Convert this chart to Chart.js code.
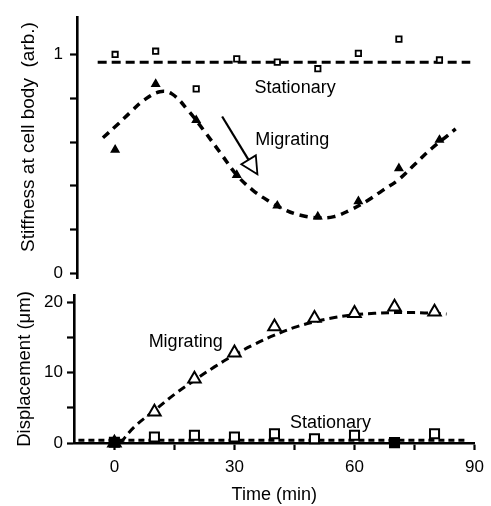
<!DOCTYPE html>
<html><head><meta charset="utf-8">
<script src="https://cdn.jsdelivr.net/npm/chart.js@4.4.1/dist/chart.umd.min.js"></script>
<style>
html,body{margin:0;padding:0;background:#fff;}
#wrap{position:relative;width:491px;height:506px;background:#fff;}
canvas{position:absolute;left:0;top:0;}
</style></head><body>
<div id="wrap"><canvas id="bot" width="491" height="506"></canvas><canvas id="top" width="491" height="506"></canvas></div>
<script>
// ---- data ----
const times = [0, 10, 20, 30, 40, 50, 60, 70, 80];
const stiffStationary = [1.0, 1.015, 0.843, 0.98, 0.965, 0.935, 1.005, 1.07, 0.975];
const stiffMigrating = [0.565, 0.865, 0.70, 0.45, 0.31, 0.26, 0.33, 0.48, 0.61];
const stiffStationaryFitX = [-4.3, 87.6];
const stiffStationaryFitY = [0.965, 0.965];
const stiffMigratingFitX = [-3, 0, 4, 7, 11, 14, 18, 22, 26, 30, 34, 38, 42, 46, 50, 54, 58, 62, 66, 70, 74, 78, 82, 84];
const stiffMigratingFitY = [0.62, 0.67, 0.74, 0.79, 0.83, 0.82, 0.745, 0.65, 0.55, 0.45, 0.38, 0.33, 0.29, 0.265, 0.255, 0.26, 0.29, 0.33, 0.38, 0.43, 0.5, 0.57, 0.63, 0.66];
const dispStationary = [0.1, 0.85, 1.1, 0.85, 1.3, 0.6, 1.1, 0.05, 1.3];
const dispMigrating = [0, 4.4, 9.1, 12.8, 16.5, 17.7, 18.4, 19.3, 18.6];
const dispStationaryFitX = [-9, 88];
const dispStationaryFitY = [0.4, 0.4];
const dispMigratingFitX = [1.5, 5, 10, 15, 20, 25, 30, 35, 40, 45, 50, 55, 60, 65, 70, 75, 80, 83];
const dispMigratingFitY = [0, 2.3, 4.6, 6.9, 8.9, 10.8, 12.5, 14.0, 15.3, 16.4, 17.2, 17.8, 18.2, 18.4, 18.5, 18.5, 18.4, 18.3];
const timeTicks = [0, 15, 30, 45, 60, 75, 90];
const timeTickLabels = [0, 30, 60, 90];
const stiffTicks = [0, 0.2, 0.4, 0.6, 0.8, 1];
const stiffTickLabels = [0, 1];
const dispTicks = [0, 5, 10, 15, 20];
const dispTickLabels = [0, 10, 20];

// ---- annotation positions (data coordinates) ----
const topLabels = [
  {text: 'Stationary', x: 44.4, y: 0.825},
  {text: 'Migrating', x: 43.7, y: 0.587}
];
const topArrow = {from: [26.4, 0.717], to: [35.1, 0.453]};
const botLabels = [
  {text: 'Migrating', x: 17.8, y: 13.6},
  {text: 'Stationary', x: 54, y: 2.1}
];

const FONT = '"Liberation Sans", Arial, Helvetica, sans-serif';
Chart.defaults.font.family = FONT;
Chart.defaults.color = '#000';

const pts = (xs, ys) => xs.map((x, i) => ({x, y: ys[i]}));

const overlay = {
  id: 'overlay',
  afterDatasetsDraw(chart, args, opts) {
    const {ctx} = chart;
    const sx = chart.scales.x, sy = chart.scales.y;
    ctx.save();
    ctx.fillStyle = '#000';
    ctx.font = '18px ' + FONT;
    ctx.textAlign = 'center';
    ctx.textBaseline = 'alphabetic';
    (opts.labels || []).forEach(l => ctx.fillText(l.text, sx.getPixelForValue(l.x), sy.getPixelForValue(l.y)));
    if (opts.arrow) {
      const x0 = sx.getPixelForValue(opts.arrow.from[0]), y0 = sy.getPixelForValue(opts.arrow.from[1]);
      const x1 = sx.getPixelForValue(opts.arrow.to[0]), y1 = sy.getPixelForValue(opts.arrow.to[1]);
      const dx = x1 - x0, dy = y1 - y0, L = Math.hypot(dx, dy);
      const ux = dx / L, uy = dy / L;
      const hl = 17, hw = 8.5;
      const bx = x1 - ux * hl, by = y1 - uy * hl;
      ctx.strokeStyle = '#000';
      ctx.lineWidth = 2.2;
      ctx.beginPath(); ctx.moveTo(x0, y0); ctx.lineTo(bx, by); ctx.stroke();
      ctx.lineWidth = 1.8;
      ctx.beginPath();
      ctx.moveTo(x1, y1);
      ctx.lineTo(bx - uy * hw, by + ux * hw);
      ctx.lineTo(bx + uy * hw, by - ux * hw);
      ctx.closePath();
      ctx.stroke();
    }
    ctx.restore();
  }
};

const axisBorder = {display: true, color: '#000', width: 2.6};
const tickGrid = {drawOnChartArea: false, drawTicks: true, tickLength: 7, tickColor: '#000', tickWidth: 2.2};

// ---- top panel ----
new Chart(document.getElementById('top'), {
  type: 'scatter',
  data: {
    datasets: [
      {data: pts(times, stiffStationary), pointStyle: 'rect', pointRadius: 3.8, borderWidth: 1.8, borderColor: '#000', backgroundColor: '#fff', clip: false},
      {data: pts(times, stiffMigrating), pointStyle: 'triangle', pointRadius: 4.3, borderWidth: 1.5, borderColor: '#000', backgroundColor: '#000', clip: false},
      {data: pts(stiffStationaryFitX, stiffStationaryFitY), showLine: true, pointRadius: 0, borderColor: '#000', borderWidth: 3, borderDash: [9, 5], clip: false},
      {data: pts(stiffMigratingFitX, stiffMigratingFitY), showLine: true, pointRadius: 0, borderColor: '#000', borderWidth: 3.5, borderDash: [8, 6], tension: 0.4, clip: false}
    ]
  },
  options: {
    responsive: false, animation: false, events: [],
    layout: {padding: {left: 0, right: 11, top: 13, bottom: 228}},
    plugins: {legend: {display: false}, tooltip: {enabled: false},
      overlay: {labels: topLabels, arrow: topArrow}},
    scales: {
      x: {type: 'linear', min: -9.4, max: 90, display: false},
      y: {type: 'linear', min: -0.02, max: 1.17,
        border: axisBorder, grid: tickGrid,
        afterBuildTicks: s => { s.ticks = stiffTicks.map(v => ({value: v})); },
        afterFit: s => { s.width = 77; },
        ticks: {autoSkip: false, padding: 7, color: '#000', font: {size: 17},
          callback: v => stiffTickLabels.includes(v) ? String(v) : ''},
        title: {display: true, text: '    Stiffness at cell body  (arb.)', color: '#000', font: {size: 19}, padding: {top: 17, bottom: 0}}
      }
    }
  },
  plugins: [overlay]
});

// ---- bottom panel ----
new Chart(document.getElementById('bot'), {
  type: 'scatter',
  data: {
    datasets: [
      {data: pts(times, dispStationary), pointStyle: 'rect', pointRadius: 6.4, borderWidth: 2, borderColor: '#000',
        backgroundColor: ['#000', '#fff', '#fff', '#fff', '#fff', '#fff', '#fff', '#000', '#fff'], clip: false},
      {data: pts(times, dispMigrating), pointStyle: 'triangle', pointRadius: 7.2, borderWidth: 2, borderColor: '#000',
        backgroundColor: ['#000', '#fff', '#fff', '#fff', '#fff', '#fff', '#fff', '#fff', '#fff'], clip: false},
      {data: pts(dispStationaryFitX, dispStationaryFitY), showLine: true, pointRadius: 0, borderColor: '#000', borderWidth: 3, borderDash: [6, 4], clip: false},
      {data: pts(dispMigratingFitX, dispMigratingFitY), showLine: true, pointRadius: 0, borderColor: '#000', borderWidth: 3, borderDash: [8, 5], tension: 0.4, clip: false}
    ]
  },
  options: {
    responsive: false, animation: false, events: [],
    layout: {padding: {left: 0, right: 11, top: 295, bottom: 0}},
    plugins: {legend: {display: false}, tooltip: {enabled: false},
      overlay: {labels: botLabels}},
    scales: {
      x: {type: 'linear', min: -10.1, max: 90,
        border: axisBorder, grid: tickGrid,
        afterBuildTicks: s => { s.ticks = timeTicks.map(v => ({value: v})); },
        afterFit: s => { s.height = 63; },
        ticks: {autoSkip: false, maxRotation: 0, padding: 7, color: '#000', font: {size: 17},
          callback: v => timeTickLabels.includes(v) ? String(v) : ''},
        title: {display: true, text: 'Time (min)', color: '#000', font: {size: 18}, padding: {top: 0, bottom: 0}}
      },
      y: {type: 'linear', min: 0, max: 21,
        border: axisBorder, grid: tickGrid,
        afterBuildTicks: s => { s.ticks = dispTicks.map(v => ({value: v})); },
        afterFit: s => { s.width = 74; },
        ticks: {autoSkip: false, padding: 4, color: '#000', font: {size: 17},
          callback: v => dispTickLabels.includes(v) ? String(v) : ''},
        title: {display: true, text: 'Displacement (μm)', color: '#000', font: {size: 18.5}, padding: {top: 14, bottom: 0}}
      }
    }
  },
  plugins: [overlay]
});
</script>
</body></html>
